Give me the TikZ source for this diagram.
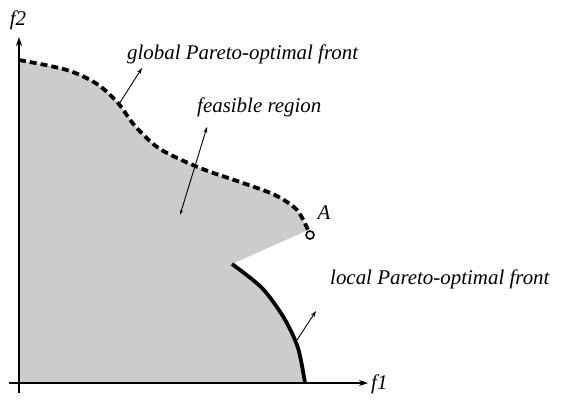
\documentclass[tikz,border=0pt]{standalone}
\usepackage{fontspec}
\setmainfont{Liberation Serif}
\usetikzlibrary{arrows.meta}
\begin{document}
\begin{tikzpicture}[x=1bp,y=-1bp,
  lbl/.style={font=\fontsize{21}{24}\selectfont\itshape, inner sep=0pt},
  axis/.style={line width=2pt},
  pointer/.style={line width=0.9pt,-{Stealth[length=6pt,width=4pt]}},
  globalfront/.style={line width=3.8pt, dash pattern=on 7pt off 4pt},
  localfront/.style={line width=3.8pt}]
\useasboundingbox (0,0) rectangle (566,406);
\fill[gray!40] (19,383) -- (19,60)
  -- plot[smooth] coordinates {(19,60) (67,70) (97,84) (118,103) (135,126) (160,149) (200,168) (240,182) (275,195) (297,210) (308,230)}
  -- (232,264)
  -- plot[smooth] coordinates {(232,264) (262,288) (284,318) (298,348) (305,383)}
  -- cycle;
\draw[globalfront] plot[smooth] coordinates {(19,60) (67,70) (97,84) (118,103) (135,126) (160,149) (200,168) (240,182) (275,195) (297,210) (308,230)};
\draw[localfront] plot[smooth] coordinates {(232,264) (262,288) (284,318) (298,348) (305,383)};
\coordinate (o) at (19,383);
\coordinate (ybot) at (19,393);
\coordinate (ytop) at (19,37);
\coordinate (xleft) at (9,383);
\coordinate (xright) at (368,383);
\draw[axis,-{Stealth[length=9pt,width=6pt]}] (ybot) -- (ytop);
\draw[axis,-{Stealth[length=9pt,width=6pt]}] (xleft) -- (xright);
\node[lbl] (f2) at (18,20) {f2};
\node[lbl,anchor=west] (f1) at (371,384) {f1};
\node[circle,draw,line width=1.6pt,fill=white,minimum size=8pt,inner sep=0pt] (A) at (310,235) {};
\node[lbl] (Alab) at (324,213) {A};
\node[lbl,anchor=west] (glab) at (127,54) {global Pareto-optimal front};
\node[lbl,anchor=west] (flab) at (197,107) {feasible region};
\node[lbl,anchor=west] (llab) at (330,279) {local Pareto-optimal front};
\coordinate (g1) at (119,104);
\coordinate (g2) at (142,68);
\draw[pointer] (g1) -- (g2);
\coordinate (r1) at (180,215);
\coordinate (r2) at (207,127);
\draw[line width=0.9pt,{Stealth[length=5pt,width=3pt]}-{Stealth[length=6pt,width=4pt]}] (r1) -- (r2);
\coordinate (l1) at (297,340);
\coordinate (l2) at (316,311);
\draw[pointer] (l1) -- (l2);
\end{tikzpicture}
\end{document}
